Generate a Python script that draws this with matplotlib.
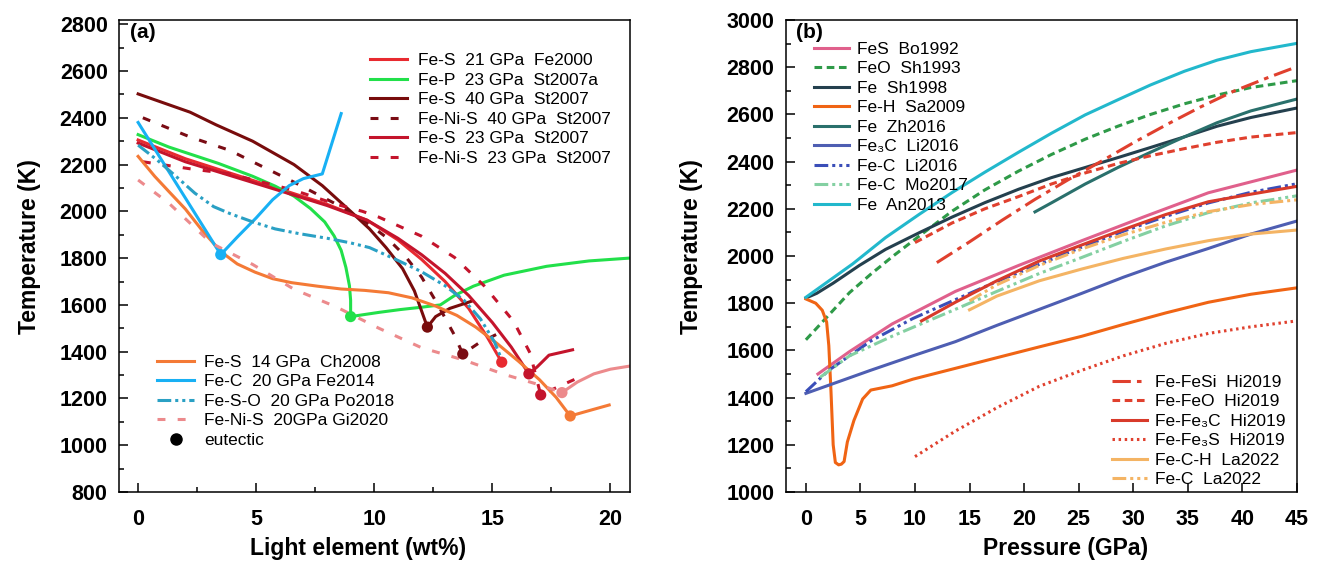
import matplotlib
matplotlib.use("Agg")
import matplotlib.pyplot as plt
from matplotlib.ticker import MultipleLocator
from matplotlib.lines import Line2D

plt.rcParams['font.family'] = ['Liberation Sans', 'DejaVu Sans']

# ---------------- panel (a): T vs light element ----------------
# liquidus branches (x in wt%, T in K)
fes21_x = [0, 2, 4, 6, 8, 9.7, 11, 12, 13, 14, 14.8, 15.4]
fes21_t = [2305, 2225, 2160, 2095, 2030, 1962, 1878, 1795, 1700, 1585, 1460, 1355]

fep23_x = [0, 1.3, 2.5, 3.4, 4.85, 5.8, 6.6, 7.3, 7.9, 8.3, 8.6, 8.8, 8.95, 9.0, 9.0,
           10.2, 11.1, 12.0, 12.8, 13.4, 14.2, 15.5, 17.3, 19.1, 20.8]
fep23_t = [2328, 2275, 2235, 2205, 2150, 2108, 2065, 2012, 1955, 1895, 1833, 1760, 1682, 1620, 1550,
           1568, 1580, 1590, 1600, 1640, 1680, 1727, 1765, 1788, 1800]

fes40_x = [0, 2.2, 3.3, 4.85, 6.6, 7.8, 9.0, 9.8, 10.5, 11.2, 11.7, 12.25, 12.6, 13.2, 14.1]
fes40_t = [2502, 2424, 2370, 2300, 2200, 2110, 2000, 1925, 1845, 1755, 1660, 1505, 1550, 1585, 1615]

fenis40_x = [0.2, 2.2, 3.9, 4.85, 6.6, 8.4, 9.5, 10.5, 11.3, 12.0, 12.7, 13.4, 13.75, 14.4, 15.2]
fenis40_t = [2400, 2318, 2260, 2212, 2125, 2030, 1965, 1890, 1810, 1720, 1600, 1470, 1390, 1435, 1475]

fes23_x = [0, 2, 4, 6, 8, 9.7, 11, 12, 13, 14, 15, 15.8, 16.55, 16.9, 17.4, 18.4]
fes23_t = [2292, 2212, 2150, 2088, 2025, 1962, 1885, 1815, 1735, 1640, 1525, 1420, 1305, 1335, 1385, 1408]

fenis23_x = [0.2, 2.2, 3.9, 6.6, 8.4, 9.5, 10.2, 12, 13.4, 14.65, 15.9, 16.6, 17.05, 17.9, 18.9]
fenis23_t = [2212, 2182, 2160, 2090, 2030, 2000, 1975, 1894, 1803, 1682, 1530, 1394, 1215, 1255, 1300]

fes14_x = [0, 0.7, 1.3, 2.0, 2.7, 3.5, 4.2, 4.95, 5.7, 6.5, 7.6, 8.6, 9.6, 10.6, 11.6,
           12.6, 13.5, 14.3, 15.2, 16.1, 17.0, 17.7, 18.3, 19.1, 19.95]
fes14_t = [2235, 2150, 2085, 2010, 1920, 1828, 1775, 1740, 1712, 1695, 1680, 1668, 1662, 1652, 1630,
           1595, 1555, 1505, 1435, 1360, 1280, 1205, 1125, 1148, 1172]

fec20_x = [0, 3.5, 4.2, 5.0, 5.7, 6.4, 7.0, 7.8, 8.6]
fec20_t = [2380, 1815, 1890, 1972, 2050, 2110, 2140, 2160, 2418]

feso20_x = [0, 0.8, 1.6, 2.4, 3.2, 3.9, 4.85, 5.8, 6.8, 8.0, 9.0, 9.8, 10.9, 12.0, 13.0, 13.8, 14.5, 15.1, 15.4]
feso20_t = [2283, 2220, 2150, 2078, 2020, 1990, 1955, 1925, 1905, 1885, 1865, 1845, 1795, 1742, 1682, 1620, 1540, 1440, 1365]

fenis20_x = [0, 1.3, 3.1, 4.85, 6.6, 8.4, 10.2, 12.0, 13.8, 15.5, 17.0, 17.95]
fenis20_t = [2134, 2035, 1864, 1773, 1667, 1591, 1500, 1417, 1364, 1303, 1258, 1225]
fenis20r_x = [17.95, 18.6, 19.3, 20.0, 20.8]
fenis20r_t = [1225, 1270, 1305, 1325, 1338]

# eutectic points
eut_x = [15.4, 9.0, 12.25, 13.75, 16.55, 17.05, 18.3, 3.5, 17.95]
eut_t = [1355, 1550, 1505, 1390, 1305, 1215, 1125, 1815, 1225]

# ---------------- panel (b): T vs pressure ----------------
bo_p = [1.1, 4.0, 7.9, 13.7, 19.5, 25.3, 31.1, 36.9, 45]
bo_t = [1500, 1595, 1712, 1850, 1960, 2065, 2168, 2268, 2364]

sh93_p = [0, 2.0, 4.0, 6.0, 8.0, 10.4, 13.4, 16.4, 19.5, 22.5, 25.6, 28.6, 31.6, 34.7, 37.7, 40.8, 45]
sh93_t = [1645, 1745, 1845, 1925, 2000, 2085, 2190, 2280, 2360, 2430, 2495, 2550, 2600, 2645, 2682, 2714, 2743]

sh98_p = [0, 1.0, 2.5, 4.9, 7.3, 10.4, 13.4, 16.4, 19.5, 22.5, 25.6, 28.6, 31.6, 34.7, 37.7, 40.8, 45]
sh98_t = [1822, 1842, 1885, 1960, 2028, 2099, 2165, 2226, 2283, 2332, 2375, 2417, 2460, 2505, 2550, 2587, 2627]

sa_p = [0, 0.9, 1.5, 1.9, 2.1, 2.3, 2.5, 2.7, 3.0, 3.25, 3.5, 3.8, 4.4, 5.2, 5.95, 7.9, 9.8,
        13.7, 17.5, 21.4, 25.3, 29.1, 33, 36.9, 40.8, 45]
sa_t = [1818, 1800, 1770, 1720, 1620, 1425, 1200, 1125, 1115, 1118, 1129, 1212, 1303, 1394, 1432,
        1450, 1478, 1524, 1569, 1615, 1660, 1710, 1759, 1804, 1838, 1865]

zh_p = [21.0, 22.5, 25.6, 28.6, 31.6, 34.7, 37.7, 40.8, 45]
zh_t = [2187, 2225, 2305, 2375, 2440, 2505, 2565, 2615, 2665]

li3_p = [0, 5.95, 9.8, 13.7, 17.5, 21.4, 25.3, 29.1, 33, 36.9, 40.8, 45]
li3_t = [1418, 1516, 1577, 1637, 1706, 1774, 1842, 1910, 1974, 2032, 2093, 2148]

lic_p = [0, 2.1, 5.95, 9.8, 13.7, 17.5, 21.4, 25.3, 29.1, 33, 36.9, 40.8, 45]
lic_t = [1425, 1516, 1640, 1735, 1815, 1892, 1965, 2038, 2105, 2168, 2225, 2270, 2306]

mo_p = [1.3, 4.0, 7.9, 10.6, 13.7, 17.5, 21.4, 25.3, 29.1, 33, 36.9, 40.8, 45]
mo_t = [1486, 1577, 1660, 1713, 1774, 1850, 1926, 1994, 2062, 2128, 2184, 2225, 2255]

an_p = [0, 4.3, 7.3, 10.4, 13.4, 16.4, 19.5, 22.5, 25.6, 28.6, 31.6, 34.7, 37.7, 40.8, 45]
an_t = [1825, 1967, 2078, 2177, 2269, 2355, 2440, 2520, 2598, 2662, 2725, 2783, 2830, 2866, 2901]

fesi_p = [12.0, 15.0, 18.0, 21.0, 24.0, 27.1, 30.1, 33.2, 36.2, 39.2, 42.3, 45]
fesi_t = [1972, 2060, 2152, 2240, 2322, 2402, 2482, 2560, 2632, 2698, 2755, 2802]

feo_p = [10.0, 13.4, 16.4, 19.5, 22.5, 25.6, 28.6, 31.6, 34.7, 37.7, 40.8, 45]
feo_t = [2057, 2140, 2200, 2252, 2305, 2352, 2392, 2425, 2455, 2482, 2504, 2523]

fe3c_p = [10.6, 13.7, 17.5, 21.4, 25.3, 29.1, 33, 36.9, 40.8, 45]
fe3c_t = [1725, 1804, 1895, 1979, 2047, 2112, 2176, 2230, 2262, 2295]

fe3s_p = [10, 13.7, 17.5, 21.4, 25.3, 29.1, 33, 36.9, 40.8, 45]
fe3s_t = [1150, 1258, 1357, 1448, 1516, 1577, 1630, 1672, 1700, 1725]

lach_p = [15.0, 17.5, 21.4, 25.3, 29.1, 33, 36.9, 40.8, 45]
lach_t = [1772, 1830, 1895, 1945, 1990, 2030, 2065, 2093, 2110]

lac_p = [15.0, 17.5, 21.4, 25.3, 29.1, 33, 36.9, 40.8, 45]
lac_t = [1810, 1878, 1960, 2030, 2090, 2143, 2188, 2218, 2238]

fig = plt.figure(figsize=(13.21, 5.61), dpi=100)
ax1 = fig.add_axes([0.0899, 0.123, 0.3868, 0.8413])
ax2 = fig.add_axes([0.5948, 0.123, 0.3871, 0.8413])

lw = 2.2
dsh = (0, (2.6, 4))
dadd = (0, (4.5, 1.3, 1, 1.3, 1, 1.3))
leg_kw = dict(frameon=False, fontsize=12.5, borderpad=0, borderaxespad=0,
              bbox_transform=fig.transFigure, loc='upper left', labelspacing=0.25)

# panel (a)
h1 = ax1.plot(fes21_x, fes21_t, color='#e82a30', lw=lw, label='Fe-S  21 GPa  Fe2000')[0]
h2 = ax1.plot(fep23_x, fep23_t, color='#22e04a', lw=lw, label='Fe-P  23 GPa  St2007a')[0]
h3 = ax1.plot(fes40_x, fes40_t, color='#780c0c', lw=lw, label='Fe-S  40 GPa  St2007')[0]
h4 = ax1.plot(fenis40_x, fenis40_t, color='#7a0c14', lw=lw, ls=dsh, label='Fe-Ni-S  40 GPa  St2007')[0]
h5 = ax1.plot(fes23_x, fes23_t, color='#c4142c', lw=lw, label='Fe-S  23 GPa  St2007')[0]
h6 = ax1.plot(fenis23_x, fenis23_t, color='#c4142c', lw=lw, ls=dsh, label='Fe-Ni-S  23 GPa  St2007')[0]
h7 = ax1.plot(fes14_x, fes14_t, color='#f47a36', lw=lw, label='Fe-S  14 GPa  Ch2008')[0]
h8 = ax1.plot(fec20_x, fec20_t, color='#18b0f4', lw=lw, label='Fe-C  20 GPa Fe2014')[0]
h9 = ax1.plot(feso20_x, feso20_t, color='#2aa0c4', lw=lw, ls=dadd, label='Fe-S-O  20 GPa Po2018')[0]
h10 = ax1.plot(fenis20_x, fenis20_t, color='#ec8a8c', lw=lw, ls=dsh, label='Fe-Ni-S  20GPa Gi2020')[0]
ax1.plot(fenis20r_x, fenis20r_t, color='#ec8a8c', lw=lw)
eut_cols = ['#e82a30', '#22e04a', '#780c0c', '#7a0c14', '#c4142c', '#c4142c', '#f47a36', '#18b0f4', '#ec8a8c']
ax1.scatter(eut_x, eut_t, s=65, c=eut_cols, zorder=5, linewidths=0)
h11 = Line2D([], [], color='black', marker='o', ls='none', markersize=8, label='eutectic')

leg_a1 = ax1.legend(handles=[h1, h2, h3, h4, h5, h6], bbox_to_anchor=(0.2801, 0.905),
                    handlelength=2.15, handletextpad=0.6, **leg_kw)
ax1.add_artist(leg_a1)
ax1.legend(handles=[h7, h8, h9, h10, h11], bbox_to_anchor=(0.1189, 0.368),
           handlelength=2.15, handletextpad=0.55, **leg_kw)

ax1.set_xlim(-0.82, 20.82)
ax1.set_ylim(800, 2818)
ax1.xaxis.set_major_locator(MultipleLocator(5))
ax1.xaxis.set_minor_locator(MultipleLocator(2.5))
ax1.yaxis.set_major_locator(MultipleLocator(200))
ax1.yaxis.set_minor_locator(MultipleLocator(100))
ax1.set_xlabel('Light element (wt%)', fontsize=16.5, fontweight='bold')
ax1.set_ylabel('Temperature (K)', fontsize=16.5, fontweight='bold')
ax1.xaxis.set_label_coords(0.468, -0.095)
ax1.yaxis.set_label_coords(-0.152, 0.52)
ax1.text(0.022, 0.993, '(a)', transform=ax1.transAxes, fontsize=15, fontweight='bold', va='top')

# panel (b)
b1 = ax2.plot(bo_p, bo_t, color='#e0608c', lw=lw, label='FeS  Bo1992')[0]
b2 = ax2.plot(sh93_p, sh93_t, color='#2e9a48', lw=lw, ls=(0, (2.5, 1.5)), label='FeO  Sh1993')[0]
b3 = ax2.plot(sh98_p, sh98_t, color='#24404e', lw=lw, label='Fe  Sh1998')[0]
b4 = ax2.plot(sa_p, sa_t, color='#f06414', lw=lw, label='Fe-H  Sa2009')[0]
b5 = ax2.plot(zh_p, zh_t, color='#2a706c', lw=lw, label='Fe  Zh2016')[0]
b6 = ax2.plot(li3_p, li3_t, color='#4e5eb2', lw=lw, label='Fe₃C  Li2016')[0]
b7 = ax2.plot(lic_p, lic_t, color='#3a4eb8', lw=lw, ls=dadd, label='Fe-C  Li2016')[0]
b8 = ax2.plot(mo_p, mo_t, color='#84d0a2', lw=lw, ls=dadd, label='Fe-C  Mo2017')[0]
b9 = ax2.plot(an_p, an_t, color='#22b8cc', lw=lw, label='Fe  An2013')[0]
c1 = ax2.plot(fesi_p, fesi_t, color='#e0402e', lw=lw, ls=(0, (6, 2, 1.5, 2)), label='Fe-FeSi  Hi2019')[0]
c2 = ax2.plot(feo_p, feo_t, color='#e0402e', lw=lw, ls=(0, (2.5, 1.5)), label='Fe-FeO  Hi2019')[0]
c3 = ax2.plot(fe3c_p, fe3c_t, color='#d83a2a', lw=lw, label='Fe-Fe₃C  Hi2019')[0]
c4 = ax2.plot(fe3s_p, fe3s_t, color='#e0402e', lw=lw, ls=(0, (0.8, 1.2)), label='Fe-Fe₃S  Hi2019')[0]
c5 = ax2.plot(lach_p, lach_t, color='#f4b464', lw=lw, label='Fe-C-H  La2022')[0]
c6 = ax2.plot(lac_p, lac_t, color='#f4b464', lw=lw, ls=dadd, label='Fe-C  La2022')[0]

leg_b1 = ax2.legend(handles=[b1, b2, b3, b4, b5, b6, b7, b8, b9], bbox_to_anchor=(0.6162, 0.926),
                    handlelength=2.0, handletextpad=0.45, **leg_kw)
ax2.add_artist(leg_b1)
ax2.legend(handles=[c1, c2, c3, c4, c5, c6], bbox_to_anchor=(0.8418, 0.332),
           handlelength=2.0, handletextpad=0.5, **leg_kw)

ax2.set_xlim(-1.85, 45.03)
ax2.set_ylim(1000, 3000)
ax2.xaxis.set_major_locator(MultipleLocator(5))
ax2.yaxis.set_major_locator(MultipleLocator(200))
ax2.yaxis.set_minor_locator(MultipleLocator(100))
ax2.set_xlabel('Pressure (GPa)', fontsize=16.5, fontweight='bold')
ax2.set_ylabel('Temperature (K)', fontsize=16.5, fontweight='bold')
ax2.xaxis.set_label_coords(0.548, -0.095)
ax2.yaxis.set_label_coords(-0.162, 0.52)
ax2.text(0.02, 0.993, '(b)', transform=ax2.transAxes, fontsize=15, fontweight='bold', va='top')

for ax in (ax1, ax2):
    ax.tick_params(which='both', direction='in', top=False, right=False, width=1.1)
    ax.tick_params(which='major', length=6.5, labelsize=15.5)
    ax.tick_params(axis='y', which='major', pad=8)
    ax.tick_params(axis='x', which='major', pad=12)
    ax.tick_params(which='minor', length=3.6)
    for lab in ax.get_xticklabels() + ax.get_yticklabels():
        lab.set_fontweight('bold')
    for sp in ax.spines.values():
        sp.set_linewidth(1.1)

fig.savefig('out.png', dpi=100)
